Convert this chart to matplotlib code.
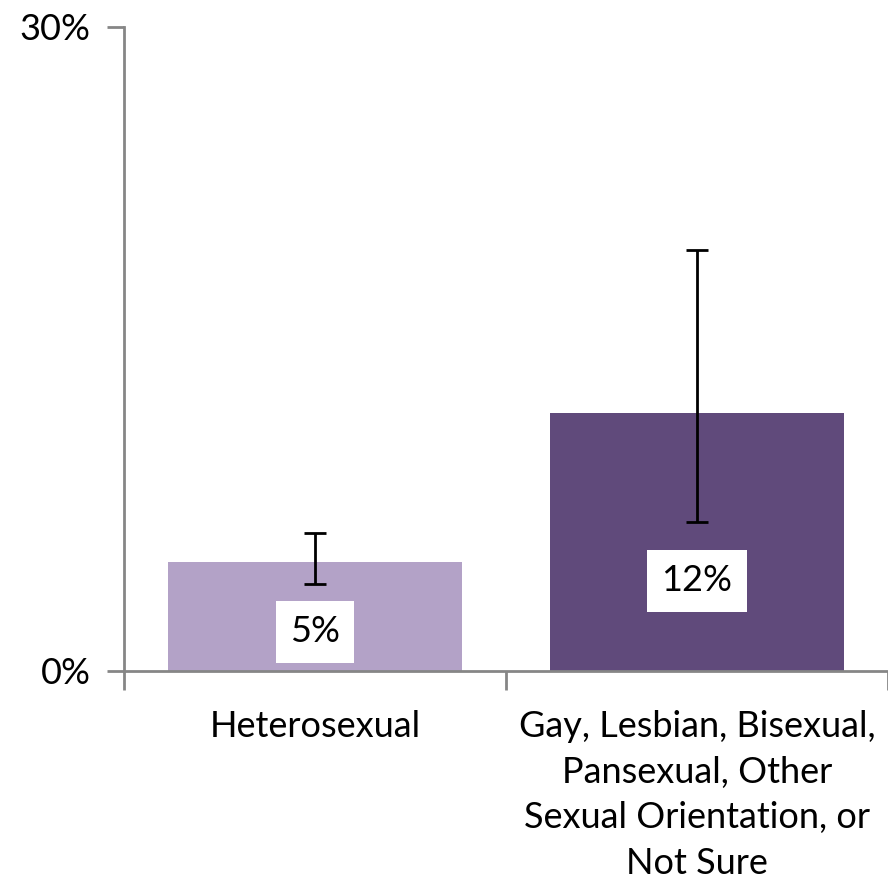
import matplotlib
matplotlib.use("Agg")
import matplotlib.pyplot as plt
import numpy as np

categories = ["Heterosexual", "Gay, Lesbian, Bisexual,\nPansexual, Other\nSexual Orientation, or\nNot Sure"]
values = [5.1, 12.0]
err_low = [4.05, 6.95]
err_high = [6.45, 19.6]
labels = ["5%", "12%"]
colors = ["#B3A2C7", "#604A7B"]
y_ticks = [0, 30]
y_tick_labels = ["0%", "30%"]

plt.rcParams['font.family'] = ['Lato', 'DejaVu Sans']

fig = plt.figure(figsize=(8.88, 8.89), dpi=100)
ax = fig.add_axes([124/888, 1-671/889, 1-124/888, (671-27)/889])

x = np.arange(len(categories))
ax.bar(x, values, width=0.77, color=colors, zorder=2)
yerr = np.array([[v - l for v, l in zip(values, err_low)], [h - v for v, h in zip(values, err_high)]])
ax.errorbar(x, values, yerr=yerr, fmt='none', ecolor='black', elinewidth=2, capsize=8, capthick=2, zorder=3)

label_frac = [0.36, 0.35]
for xi, v, lab, f in zip(x, values, labels, label_frac):
    ax.text(xi, v * f, lab, ha='center', va='center', fontsize=26, color='black', zorder=4,
            bbox=dict(boxstyle='square,pad=0.4', facecolor='white', edgecolor='none'))

ax.set_xlim(-0.5, len(categories) - 0.5)
ax.set_ylim(0, 30)
ax.set_yticks(y_ticks)
ax.set_yticklabels(y_tick_labels, fontsize=26)
ax.set_xticks(x)
ax.set_xticklabels(categories, fontsize=26, linespacing=1.47)
ax.tick_params(axis='x', length=0, pad=28)
ax.set_xticks([-0.5, 0.5, 1.5], minor=True)
ax.tick_params(axis='x', which='minor', length=14, width=2, color='#868686', direction='out')
ax.tick_params(axis='y', length=12, width=2, color='#868686', direction='out', pad=12)

for s in ['top', 'right']:
    ax.spines[s].set_visible(False)
for s in ['left', 'bottom']:
    ax.spines[s].set_color('#868686')
    ax.spines[s].set_linewidth(2)

fig.savefig("out.png", dpi=100)
